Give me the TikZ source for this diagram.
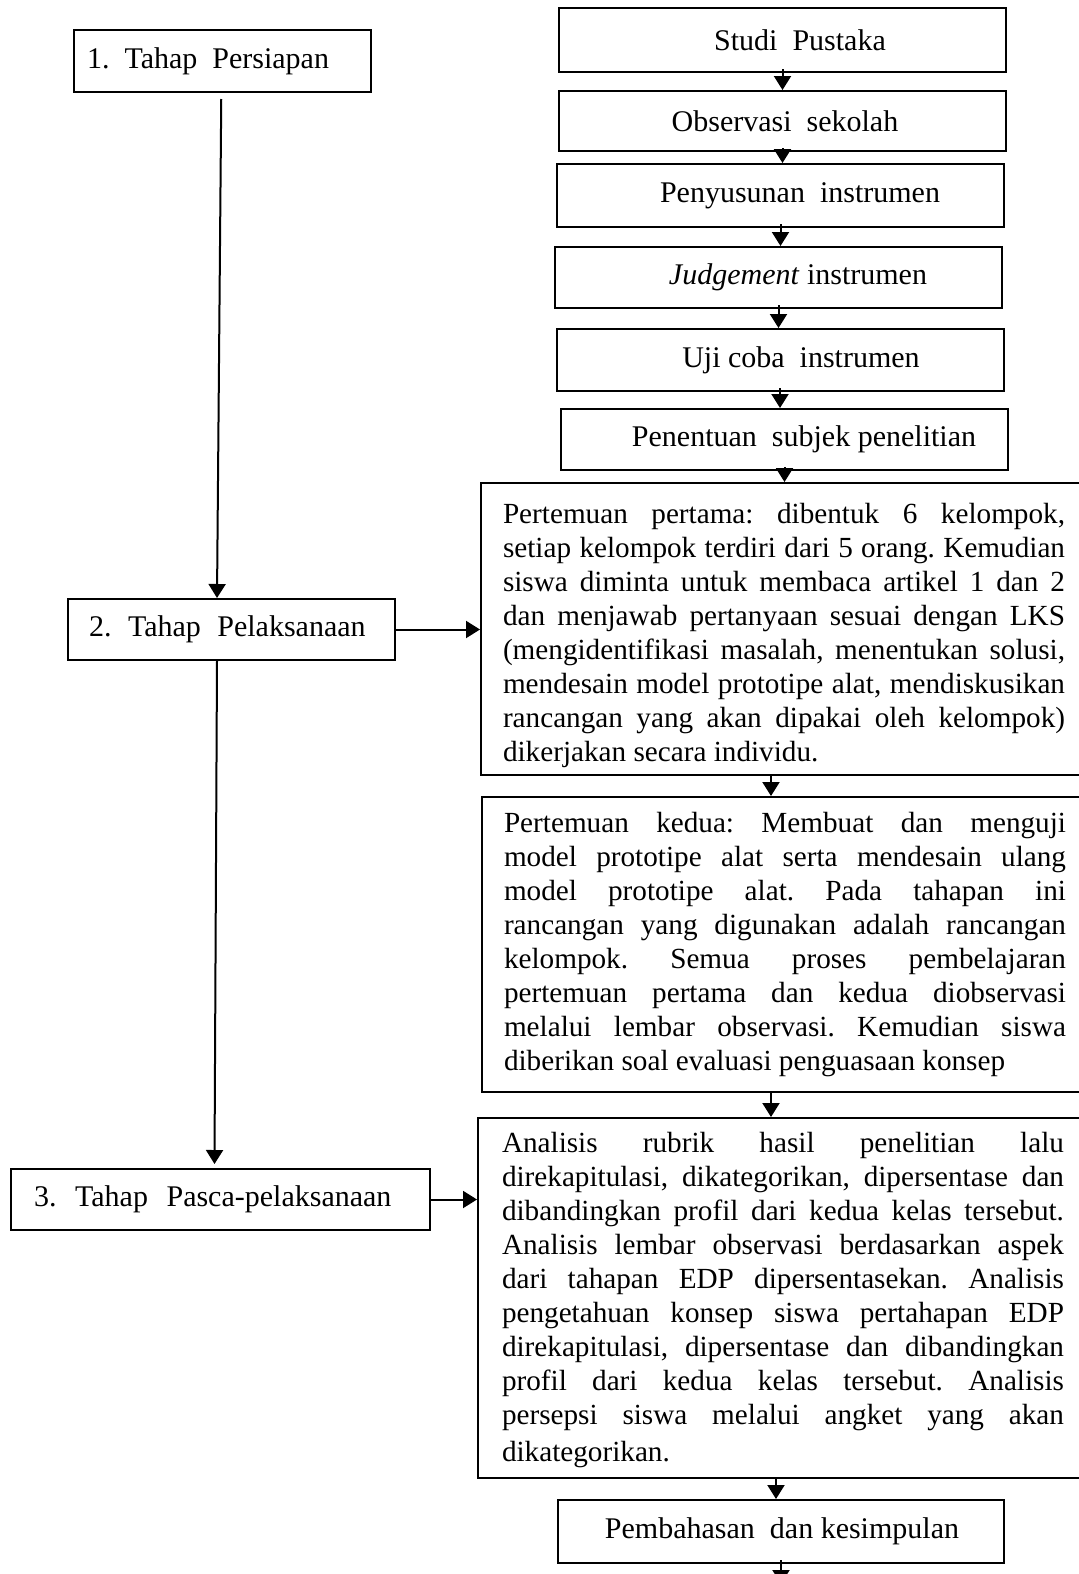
\documentclass[tikz,border=0pt]{standalone}
\usepackage{fontspec}
\setmainfont{Liberation Serif}
\usetikzlibrary{arrows.meta}
\frenchspacing
\newcommand\JL[1]{\hbox to 281pt{#1}}
\newcommand\ws[1]{\hspace{#1em}}
\begin{document}
\begin{tikzpicture}[x=0.5pt,y=-0.5pt,
  box/.style={draw,line width=1pt,inner sep=0pt,minimum width=223.5pt,font=\fontsize{15}{17}\selectfont},
  lbox/.style={draw,line width=1pt,anchor=north west,align=left,inner ysep=0pt,font=\fontsize{15}{17}\selectfont},
  bigbox/.style={draw,line width=1pt,anchor=north west,inner sep=0pt},
  bigtext/.style={align=left,inner sep=0pt,font=\fontsize{14.6}{17}\selectfont\frenchspacing},
  arr/.style={line width=1pt,-{Triangle[length=7pt,width=8.5pt]}}]
\useasboundingbox (0,0) rectangle (1079,1574);

% left column
\node[lbox,text width=135.25pt,inner xsep=6.5pt,minimum height=31pt] (p1) at (73,29) {1.\ws{0.5}Tahap\ws{0.5}Persiapan};
\node[lbox,text width=142pt,inner xsep=10.75pt,minimum height=30.5pt] (p2) at (66.5,598) {2.\ws{0.55}Tahap\ws{0.55}Pelaksanaan};
\node[lbox,text width=186.5pt,inner xsep=11.5pt,minimum height=30.5pt] (p3) at (10,1168) {3.\ws{0.62}Tahap\ws{0.62}Pasca-pelaksanaan};

% right column small boxes
\node[box,minimum height=32pt] (s1) at (782.5,40) {\hspace*{17.5pt}Studi\ \ Pustaka};
\node[box,minimum height=30pt] (s2) at (782.5,121) {\hspace*{2.5pt}Observasi\ \ sekolah};
\node[box,minimum height=31.5pt] (s3) at (780.5,195.5) {\hspace*{19.5pt}Penyusunan\ \ instrumen};
\node[box,minimum height=30.5pt] (s4) at (778.5,277.5) {\hspace*{19.5pt}\textit{Judgement} instrumen};
\node[box,minimum height=31pt] (s5) at (780,360) {\hspace*{21pt}Uji coba\ \ instrumen};
\node[box,minimum height=30.5pt] (s6) at (784.5,439.5) {\hspace*{19.5pt}Penentuan\ \ subjek penelitian};

% big boxes
\node[bigbox,minimum width=303pt,minimum height=146pt] (b1) at (480,482) {};
\node[bigtext] (t1) at ([yshift=-3pt]b1.center) {%
\JL{Pertemuan pertama: dibentuk 6 kelompok,}\\
\JL{setiap kelompok terdiri dari 5 orang. Kemudian}\\
\JL{siswa diminta untuk membaca artikel 1 dan 2}\\
\JL{dan menjawab pertanyaan sesuai dengan LKS}\\
\JL{(mengidentifikasi masalah, menentukan solusi,}\\
\JL{mendesain model prototipe alat, mendiskusikan}\\
\JL{rancangan yang akan dipakai oleh kelompok)}\\
\JL{dikerjakan secara individu.\hfill}};

\node[bigbox,minimum width=303pt,minimum height=147.5pt] (b2) at (481,796) {};
\node[bigtext] (t2) at (b2.center) {%
\JL{Pertemuan kedua: Membuat dan menguji}\\
\JL{model prototipe alat serta mendesain ulang}\\
\JL{model prototipe alat. Pada tahapan ini}\\
\JL{rancangan yang digunakan adalah rancangan}\\
\JL{kelompok. Semua proses pembelajaran}\\
\JL{pertemuan pertama dan kedua diobservasi}\\
\JL{melalui lembar observasi. Kemudian siswa}\\
\JL{diberikan soal evaluasi penguasaan konsep\hfill}};

\node[bigbox,minimum width=305pt,minimum height=180pt] (b3) at (477,1117) {};
\node[bigtext] (t3) at ([yshift=-1pt]b3.center) {%
\JL{Analisis rubrik hasil penelitian lalu}\\
\JL{direkapitulasi, dikategorikan, dipersentase dan}\\
\JL{dibandingkan profil dari kedua kelas tersebut.}\\
\JL{Analisis lembar observasi berdasarkan aspek}\\
\JL{dari tahapan EDP dipersentasekan. Analisis}\\
\JL{pengetahuan konsep siswa pertahapan EDP}\\
\JL{direkapitulasi, dipersentase dan dibandingkan}\\
\JL{profil dari kedua kelas tersebut. Analisis}\\
\JL{persepsi siswa melalui angket yang akan}\\[1.5pt]
\JL{dikategorikan.\hfill}};

\node[box,minimum width=222.75pt,minimum height=31.5pt] (e) at (781,1531.5) {\hspace*{1pt}Pembahasan\ \ dan kesimpulan};
\coordinate (bot) at (777,1584);

% connectors right column
\draw[arr] ([yshift=2pt]s1.south) -- (s1.south |- s2.north);
\draw[arr] ([yshift=2pt]s2.south) -- (s2.south |- s3.north);
\draw[arr] ([yshift=2pt]s3.south) -- (s3.south |- s4.north);
\draw[arr] ([yshift=2pt]s4.south) -- (s4.south |- s5.north);
\draw[arr] ([yshift=2pt]s5.south) -- (s5.south |- s6.north);
\draw[arr] ([yshift=2pt]s6.south) -- (s6.south |- b1.north);
\draw[arr] ([xshift=-6.5pt]b1.south) -- ([xshift=-6.5pt]b1.south |- b2.north);
\draw[arr] ([xshift=-7pt]b2.south) -- ([xshift=-7pt]b2.south |- b3.north);
\draw[arr] ([xshift=-3.5pt]b3.south) -- ([xshift=-3.5pt]b3.south |- e.north);
\draw[arr] ([yshift=2pt]e.south) -- (e.south |- bot);

% connectors left column
\draw[arr] ([shift={(-1,6)}]p1.south) -- ([shift={(-14,0)}]p2.north);
\draw[arr] ([shift={(-14,0)}]p2.south) -- ([shift={(-6,-4)}]p3.north);
\draw[arr] (p2.east) -- (p2.east -| b1.west);
\draw[arr] (p3.east) -- (p3.east -| b3.west);
\end{tikzpicture}
\end{document}
